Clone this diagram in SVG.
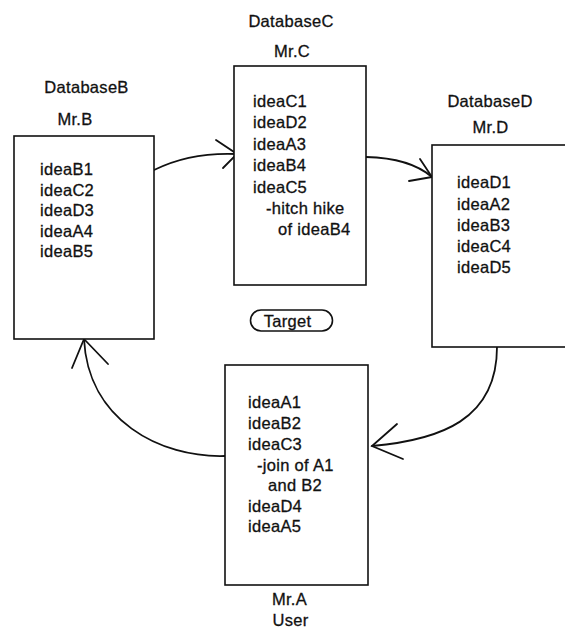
<svg xmlns="http://www.w3.org/2000/svg" width="565" height="628" viewBox="0 0 565 628">
<style>
text{font-family:"Liberation Sans",Arial,sans-serif;font-size:16.5px;letter-spacing:0.3px;fill:#111;stroke:#111;stroke-width:0.3}
.c{text-anchor:middle}
.box{fill:#fff;stroke:#111;stroke-width:1.6}
.con{fill:none;stroke:#111;stroke-width:1.8;stroke-linecap:round}
</style>
<rect width="565" height="628" fill="#fff"/>
<g id="connectors">
<path class="con" d="M154,170 Q190,152 237,154"/>
<path class="con" d="M216,140 L237,154 L223,168"/>
<path class="con" d="M366,157 Q410,158 432,177"/>
<path class="con" d="M420,159 L432,177 L409,181"/>
<path class="con" d="M497,347 C497,420 440,440 372,446"/>
<path class="con" d="M397,424 L372,446 L403,459"/>
<path class="con" d="M225,456 C160,458 88,420 84,339"/>
<path class="con" d="M72,368 L84,339 L108,364"/>
</g>
<g id="nodeB">
<text class="c" x="86.5" y="93">DatabaseB</text>
<text class="c" x="75" y="125">Mr.B</text>
<rect class="box" x="14" y="136" width="140" height="203"/>
<text x="40" y="175">ideaB1</text>
<text x="40" y="196">ideaC2</text>
<text x="40" y="216">ideaD3</text>
<text x="40" y="237">ideaA4</text>
<text x="40" y="257">ideaB5</text>
</g>
<g id="nodeC">
<text class="c" x="291" y="27">DatabaseC</text>
<text class="c" x="292" y="57">Mr.C</text>
<rect class="box" x="234" y="66" width="132" height="219"/>
<text x="253" y="107">ideaC1</text>
<text x="253" y="128.4">ideaD2</text>
<text x="253" y="149.8">ideaA3</text>
<text x="253" y="171.2">ideaB4</text>
<text x="253" y="192.6">ideaC5</text>
<text x="266" y="214">-hitch hike</text>
<text x="278" y="235.4">of ideaB4</text>
</g>
<g id="nodeD">
<text class="c" x="490" y="107">DatabaseD</text>
<text class="c" x="490.5" y="133">Mr.D</text>
<rect class="box" x="432" y="145" width="140" height="202"/>
<text x="457" y="188">ideaD1</text>
<text x="457" y="209.5">ideaA2</text>
<text x="457" y="231">ideaB3</text>
<text x="457" y="252">ideaC4</text>
<text x="457" y="273">ideaD5</text>
</g>
<g id="nodeA">
<rect class="box" x="225" y="365" width="143" height="220"/>
<text x="248" y="408">ideaA1</text>
<text x="248" y="429">ideaB2</text>
<text x="248" y="450">ideaC3</text>
<text x="257" y="471">-join of A1</text>
<text x="268" y="491">and B2</text>
<text x="248" y="512">ideaD4</text>
<text x="248" y="532">ideaA5</text>
<text class="c" x="289.5" y="605">Mr.A</text>
<text class="c" x="290.5" y="626">User</text>
</g>
<g id="target">
<rect x="250.5" y="310" width="82" height="21" rx="10.5" fill="none" stroke="#111" stroke-width="1.6"/>
<text class="c" x="287.5" y="326.5">Target</text>
</g>
</svg>
